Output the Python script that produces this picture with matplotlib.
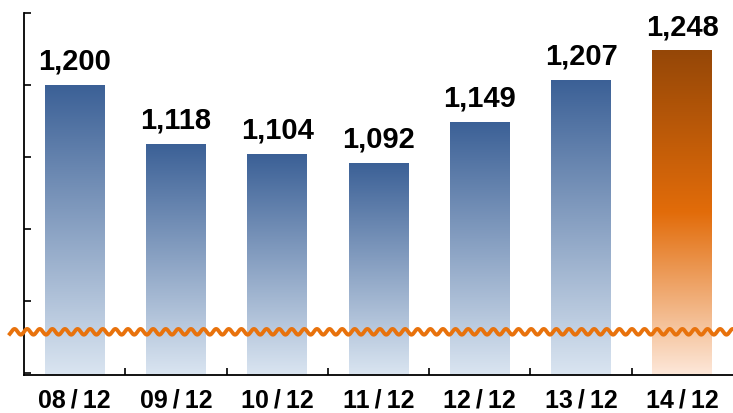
import matplotlib
matplotlib.use("Agg")
import matplotlib.pyplot as plt
import numpy as np
from matplotlib.colors import LinearSegmentedColormap
from matplotlib.transforms import blended_transform_factory

# data
months = ["08/12", "09/12", "10/12", "11/12", "12/12", "13/12", "14/12"]
values = [1200, 1118, 1104, 1092, 1149, 1207, 1248]
highlight = 6          # last bar drawn in orange
y_low, y_high = 797, 1300
break_at = 857         # where the wavy break line sits

blue_cmap = LinearSegmentedColormap.from_list("b", ["#dae5f1", "#3b6096"])
orange_cmap = LinearSegmentedColormap.from_list(
    "o", [(0.0, "#fde8da"), (0.5, "#e26c0a"), (1.0, "#954707")])

plt.rcParams['font.family'] = ['Liberation Sans', 'DejaVu Sans']

fig = plt.figure(figsize=(7.33, 4.13), dpi=100)
ax = fig.add_axes([24 / 733, 38 / 413, 709 / 733, 362 / 413])

x = np.arange(len(values))
bars = ax.bar(x, np.array(values) - y_low, bottom=y_low, width=0.59,
              color="none", edgecolor="none")

grad = np.linspace(0, 1, 256).reshape(-1, 1)
for i, b in enumerate(bars):
    cmap = orange_cmap if i == highlight else blue_cmap
    x0 = b.get_x()
    im = ax.imshow(grad, cmap=cmap, origin="lower", aspect="auto",
                   extent=(x0, x0 + b.get_width(), y_low, values[i]),
                   interpolation="bilinear", zorder=1)
    im.set_clip_path(b)

for i, v in enumerate(values):
    ax.annotate(f"{v:,}", (i, v), xytext=(0, 11), textcoords="offset points",
                ha="center", va="baseline", fontsize=21, fontweight="bold")

ax.set_xlim(-0.5, len(values) - 0.5)
ax.set_ylim(y_low, y_high)

ax.set_xticks(x)
ax.set_xticklabels([m.replace("/", "\u2009/\u2009") for m in months],
                   fontsize=18, fontweight="bold")
ax.set_xticks(x[:-1] + 0.5, minor=True)
ax.tick_params(axis="x", which="major", length=0, pad=10)
ax.tick_params(axis="x", which="minor", direction="in", length=5, width=1.2)
ax.set_yticks([800, 900, 1000, 1100, 1200, 1300])
ax.set_yticklabels([])
ax.tick_params(axis="y", direction="in", length=5, width=1.2)

for s in ["top", "right"]:
    ax.spines[s].set_visible(False)
for s in ["left", "bottom"]:
    ax.spines[s].set_linewidth(1.3)

# wavy break line
trans = blended_transform_factory(ax.transAxes, ax.transData)
wx = np.linspace(-0.02, 1.0, 2000)
wave_len = 12.6 / 709
wy = break_at + 4.0 * np.sin(2 * np.pi * wx / wave_len)
ax.plot(wx, wy, color="#e8720c", lw=2.8, transform=trans, clip_on=False,
        zorder=5)

fig.savefig("out.png", dpi=100)
